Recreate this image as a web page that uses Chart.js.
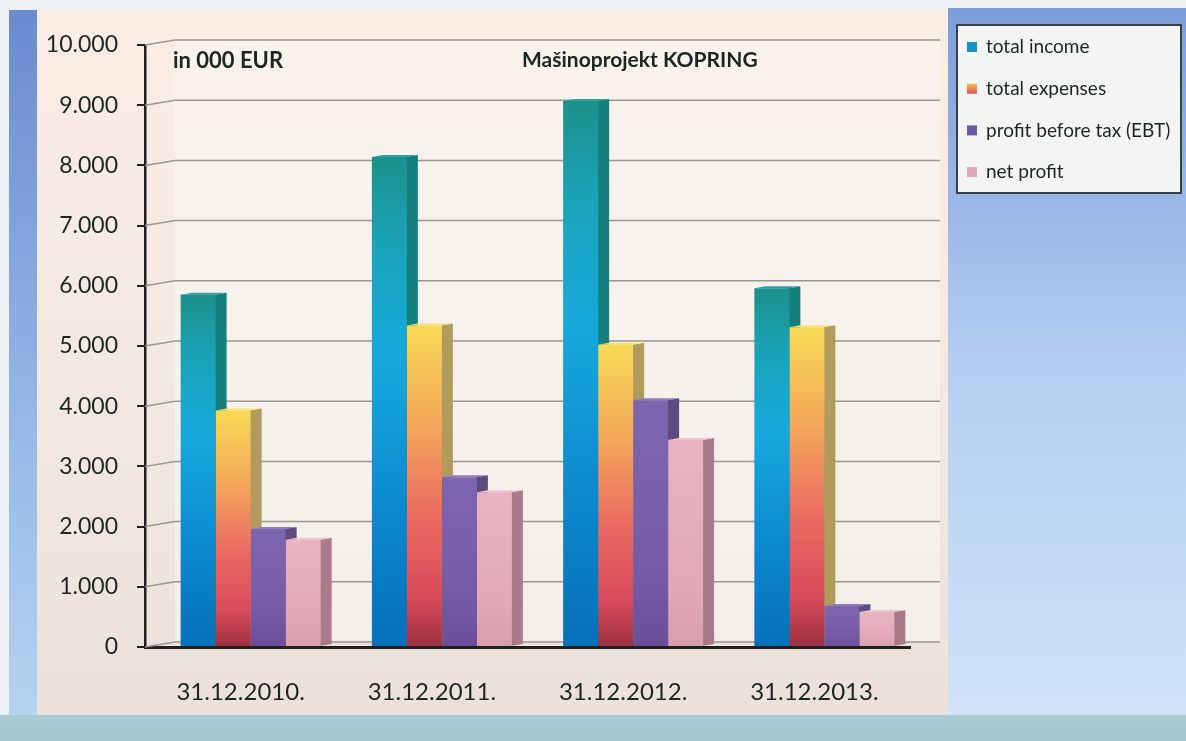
<!DOCTYPE html>
<html>
<head>
<meta charset="utf-8">
<script src="https://cdn.jsdelivr.net/npm/chart.js@4.4.1/dist/chart.umd.min.js"></script>
<style>
  html, body { margin: 0; padding: 0; background: #eef2f4; }
  #wrap { width: 1186px; height: 741px; position: relative; }
  canvas { display: block; }
</style>
</head>
<body>
<div id="wrap"><canvas id="c" width="1186" height="741"></canvas></div>
<script>
// ---- data ----
const categories = ['31.12.2010.', '31.12.2011.', '31.12.2012.', '31.12.2013.'];
const totalIncome = [5850, 8140, 9070, 5960];
const totalExpenses = [3930, 5340, 5020, 5310];
const profitBeforeTax = [1960, 2820, 4100, 680];
const netProfit = [1780, 2570, 3440, 580];
const seriesLabels = ['total income', 'total expenses', 'profit before tax (EBT)', 'net profit'];
const yTickLabels = ['0', '1.000', '2.000', '3.000', '4.000', '5.000', '6.000', '7.000', '8.000', '9.000', '10.000'];
const titleLeft = 'in 000 EUR';
const titleRight = 'Mašinoprojekt KOPRING';

// ---- styles ----
const FONT = 'Lato, "Open Sans", "DejaVu Sans", sans-serif';
const gradStops = [
  [[0, '#1b918a'], [0.18, '#1aa3b8'], [0.4, '#17a9dc'], [0.75, '#0b86cc'], [1, '#0670b8']],
  [[0, '#f7da55'], [0.3, '#f4a95a'], [0.6, '#ea6a62'], [0.85, '#d84a5a'], [1, '#9a3040']],
  [[0, '#7d66ad'], [0.7, '#775aa6'], [1, '#6a4e98']],
  [[0, '#e8b4c2'], [0.7, '#e2a9b8'], [1, '#d89eae']]
];
const sideColors = ['#14807e', '#b09a5c', '#5c4a80', '#a87a8a'];
const topColors = ['#2aa39c', '#f8e07a', '#8f7abb', '#efc4cf'];
const legendColors = ['#1a8fc8', '#ee7a55', '#6b5aa3', '#e3a9b8'];
const DEPTH_X = 11, DEPTH_Y = 2, SHIFT_X = 10;
const WALL_X = 30, WALL_Y = -5;

function vgrad(ctx, stops) {
  const ch = ctx.chart;
  const ys = ch.scales && ch.scales.y;
  if (!ys || ctx.type !== 'data' || ctx.raw == null) return stops[0][1];
  const top = ys.getPixelForValue(ctx.raw), bot = ys.getPixelForValue(0);
  if (!isFinite(top) || !isFinite(bot) || top === bot) return stops[0][1];
  const g = ch.ctx.createLinearGradient(0, top, 0, bot);
  stops.forEach(s => g.addColorStop(s[0], s[1]));
  return g;
}

const seriesData = [totalIncome, totalExpenses, profitBeforeTax, netProfit];
const datasets = seriesData.map((d, i) => ({
  label: seriesLabels[i],
  data: d,
  backgroundColor: (ctx) => vgrad(ctx, gradStops[i]),
  borderWidth: 0,
  categoryPercentage: 0.732,
  barPercentage: 1.0
}));

const decor = {
  id: 'decor',
  beforeDraw(chart) {
    const c = chart.ctx;
    const W = chart.width, H = chart.height;
    c.save();
    c.fillStyle = '#eef1f3';
    c.fillRect(0, 0, W, H);
    let g = c.createLinearGradient(0, 10, 0, 715);
    g.addColorStop(0, '#7d9ddb');
    g.addColorStop(0.5, '#b3cef1');
    g.addColorStop(1, '#cfe2f6');
    c.fillStyle = g;
    c.fillRect(948, 8, W - 948, 707);
    g = c.createLinearGradient(0, 10, 0, 715);
    g.addColorStop(0, '#6b8bd0');
    g.addColorStop(0.6, '#98b8e8');
    g.addColorStop(1, '#b5d3ef');
    c.fillStyle = g;
    c.fillRect(9, 10, 28, 705);
    g = c.createLinearGradient(0, 715, 0, H);
    g.addColorStop(0, '#a9ccd3');
    g.addColorStop(1, '#a3c6cc');
    c.fillStyle = g;
    c.fillRect(0, 715, W, H - 715);
    g = c.createLinearGradient(0, 10, 0, 715);
    g.addColorStop(0, '#f9ede4');
    g.addColorStop(0.6, '#f3e8e1');
    g.addColorStop(1, '#ece1da');
    c.fillStyle = g;
    c.fillRect(37, 10, 911, 705);
    c.restore();
  },
  beforeDatasetsDraw(chart) {
    const c = chart.ctx;
    const ys = chart.scales.y, area = chart.chartArea;
    c.save();
    c.fillStyle = 'rgba(250,247,244,0.55)';
    c.fillRect(area.left + WALL_X, ys.getPixelForValue(10000) + WALL_Y, 940 - area.left - WALL_X, ys.getPixelForValue(0) - ys.getPixelForValue(10000));
    c.strokeStyle = '#9a9692';
    c.lineWidth = 1.5;
    ys.ticks.forEach(t => {
      const y = ys.getPixelForValue(t.value);
      c.beginPath();
      c.moveTo(area.left, y);
      c.lineTo(area.left + WALL_X, y + WALL_Y);
      c.lineTo(940, y + WALL_Y);
      c.stroke();
    });
    c.restore();
    c.save();
    c.translate(SHIFT_X, 0);
    chart.data.datasets.forEach((ds, i) => {
      const meta = chart.getDatasetMeta(i);
      meta.data.forEach(el => {
        const p = el.getProps(['x', 'y', 'base', 'width'], true);
        const x2 = p.x + p.width / 2, x1 = p.x - p.width / 2;
        c.fillStyle = sideColors[i];
        c.beginPath();
        c.moveTo(x2 - 1, p.y);
        c.lineTo(x2 + DEPTH_X, p.y - DEPTH_Y);
        c.lineTo(x2 + DEPTH_X, p.base - DEPTH_Y);
        c.lineTo(x2 - 1, p.base);
        c.closePath();
        c.fill();
        c.fillStyle = topColors[i];
        c.beginPath();
        c.moveTo(x1, p.y);
        c.lineTo(x1 + DEPTH_X, p.y - DEPTH_Y);
        c.lineTo(x2 + DEPTH_X, p.y - DEPTH_Y);
        c.lineTo(x2, p.y);
        c.closePath();
        c.fill();
      });
    });
  },
  afterDatasetsDraw(chart) {
    chart.ctx.restore();
  },
  afterDraw(chart) {
    const c = chart.ctx;
    c.save();
    c.fillStyle = '#1b2620';
    c.textBaseline = 'alphabetic';
    c.textAlign = 'left';
    c.font = 'bold 22px ' + FONT;
    c.fillText(titleLeft, 173, 68);
    c.font = 'bold 21px ' + FONT;
    c.fillText(titleRight, 522, 67);
    c.fillStyle = '#f3f5f2';
    c.fillRect(957, 25, 224, 168);
    c.strokeStyle = '#3a3f44';
    c.lineWidth = 2;
    c.strokeRect(957, 25, 224, 168);
    c.font = '19px ' + FONT;
    c.textBaseline = 'middle';
    seriesLabels.forEach((lab, i) => {
      const yc = 47 + i * 41.7;
      let fill = legendColors[i];
      if (i === 1) {
        const g = c.createLinearGradient(0, yc - 5, 0, yc + 5);
        g.addColorStop(0, '#f6c257');
        g.addColorStop(1, '#dc4c5a');
        fill = g;
      }
      c.fillStyle = fill;
      c.fillRect(967, yc - 5, 10, 10);
      c.fillStyle = '#1b2620';
      c.fillText(lab, 986, yc);
    });
    c.restore();
  }
};

new Chart(document.getElementById('c'), {
  type: 'bar',
  data: { labels: categories, datasets },
  plugins: [decor],
  options: {
    responsive: false,
    animation: false,
    devicePixelRatio: 1,
    layout: { padding: { left: 0, right: 276, top: 45, bottom: 0 } },
    plugins: { legend: { display: false }, tooltip: { enabled: false }, title: { display: false } },
    scales: {
      x: {
        z: 1,
        grid: { display: false },
        border: { display: true, color: '#1f1f1f', width: 3 },
        ticks: { color: '#1b2620', font: { family: FONT, size: 24 }, padding: 23 },
        afterFit: (s) => { s.height = 94; }
      },
      y: {
        min: 0, max: 10000,
        grid: { display: true, drawOnChartArea: false, drawTicks: true, tickLength: 8, color: '#1f1f1f', lineWidth: 2 },
        border: { display: true, color: '#1f1f1f', width: 2.5 },
        ticks: {
          stepSize: 1000,
          color: '#1b2620',
          font: { family: FONT, size: 23 },
          padding: 19,
          callback: (v) => yTickLabels[Math.round(v / 1000)]
        },
        afterFit: (s) => { s.width = 145; }
      }
    }
  }
});
</script>
</body>
</html>
